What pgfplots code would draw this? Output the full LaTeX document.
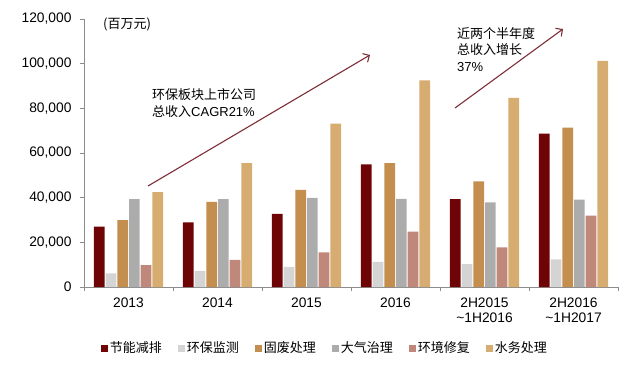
\documentclass[border=0pt]{standalone}
\usepackage{pgfplots}
\pgfplotsset{compat=1.18}
\usepackage{fontspec}
\setmainfont{Liberation Sans}
\newfontfamily\cjk{Noto Sans CJK SC}
\usetikzlibrary{arrows.meta}
\definecolor{c1}{RGB}{110,4,6}
\definecolor{c2}{RGB}{212,212,212}
\definecolor{c3}{RGB}{195,142,78}
\definecolor{c4}{RGB}{172,172,172}
\definecolor{c5}{RGB}{192,136,122}
\definecolor{c6}{RGB}{215,172,112}
\definecolor{arr}{RGB}{125,45,55}
\definecolor{axc}{RGB}{140,140,140}
\begin{document}
\begin{tikzpicture}
\useasboundingbox (-84pt,-96pt) rectangle (550pt,287pt);
\begin{axis}[
  at={(0pt,0pt)}, anchor=south west,
  scale only axis, width=534pt, height=268pt,
  xmin=-0.5, xmax=5.5, ymin=0, ymax=120000,
  ybar=1pt, bar width=10.7pt,
  axis lines=left,
  axis line style={draw=axc, line width=0.8pt, -},
  xtick={0,...,5},
  xticklabels={2013,2014,2015,2016,{2H2015\\\textasciitilde 1H2016},{2H2016\\\textasciitilde 1H2017}},
  xticklabel style={align=center, yshift=-3pt},
  major x tick style={draw=none},
  minor xtick={-0.5,0.5,...,5.5},
  tick align=outside,
  major tick length=4pt, minor tick length=4pt,
  tick style={draw=axc, line width=0.8pt},
  ytick={0,20000,...,120000},
  scaled y ticks=false,
  yticklabel style={xshift=-5pt, /pgf/number format/fixed, /pgf/number format/precision=0, /pgf/number format/1000 sep={,}, /pgf/number format/assume math mode=true},
  tick label style={font=\fontsize{13.8}{15.5}\selectfont},
  legend style={at={(0.451,-0.228)}, anchor=center, draw=none, legend columns=-1,
    font=\cjk\fontsize{13}{15}\selectfont,
    /tikz/every even column/.append style={column sep=14pt}},
  legend image code/.code={\fill[#1] (0pt,-3.5pt) rectangle (7pt,3.5pt);},
]
\addplot[fill=c1, draw=none] coordinates {(0,27000) (1,28900) (2,32700) (3,54900) (4,39400) (5,68700)};
\addplot[fill=c2, draw=none] coordinates {(0,6100) (1,7200) (2,9000) (3,11200) (4,10200) (5,12400)};
\addplot[fill=c3, draw=none] coordinates {(0,30000) (1,38100) (2,43500) (3,55500) (4,47300) (5,71400)};
\addplot[fill=c4, draw=none] coordinates {(0,39300) (1,39300) (2,39900) (3,39500) (4,37900) (5,39100)};
\addplot[fill=c5, draw=none] coordinates {(0,9850) (1,12100) (2,15500) (3,24800) (4,17700) (5,32000)};
\addplot[fill=c6, draw=none] coordinates {(0,42500) (1,55500) (2,73200) (3,92500) (4,84700) (5,101200)};
\legend{节能减排,环保监测,固废处理,大气治理,环境修复,水务处理}
\end{axis}
\node[anchor=west, inner sep=0pt, font=\cjk\fontsize{13}{15}\selectfont] at (19pt,263pt) {(百万元)};
\node[anchor=west, inner sep=0pt, font=\fontsize{13}{15}\selectfont] at (68pt,192pt) {\cjk 环保板块上市公司};
\node[anchor=west, inner sep=0pt, font=\fontsize{13}{15}\selectfont] at (68pt,175pt) {{\cjk 总收入}CAGR21\%};
\node[anchor=west, inner sep=0pt, font=\fontsize{13}{15}\selectfont] at (373pt,253pt) {\cjk 近两个半年度};
\node[anchor=west, inner sep=0pt, font=\fontsize{13}{15}\selectfont] at (373pt,237pt) {\cjk 总收入增长};
\node[anchor=west, inner sep=0pt, font=\fontsize{13}{15}\selectfont] at (373pt,220pt) {37\%};
\draw[arr, line width=1.1pt, -{Straight Barb[length=5pt,width=10pt]}] (64pt,101pt) -- (286pt,232pt);
\draw[arr, line width=1.1pt, -{Straight Barb[length=5pt,width=10pt]}] (371pt,179pt) -- (479pt,258pt);
\end{tikzpicture}
\end{document}
